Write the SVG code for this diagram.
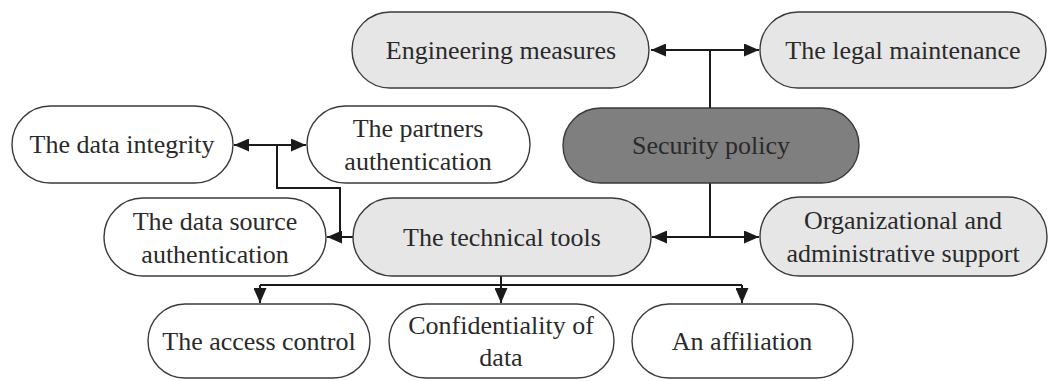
<svg xmlns="http://www.w3.org/2000/svg" width="1052" height="381" viewBox="0 0 1052 381">
  <defs>
    <marker id="arrowhead" viewBox="0 0 15 13" refX="15" refY="6.5" markerWidth="15" markerHeight="13" markerUnits="userSpaceOnUse" orient="auto-start-reverse">
      <path d="M0,0 L15,6.5 L0,13 Z" fill="#1a1a1a"/>
    </marker>
    <style>
      .box { stroke: #3a3a3a; stroke-width: 1.4; }
      .white { fill: #ffffff; }
      .light { fill: #e6e6e6; }
      .dark { fill: #7f7f7f; }
      text { font-family: "Liberation Serif", "DejaVu Serif", serif; font-size: 26px; fill: #2a2a2a; text-anchor: middle; dominant-baseline: central; }
      .wire { fill: none; stroke: #1a1a1a; stroke-width: 2; }
    </style>
  </defs>
  <rect width="1052" height="381" fill="#ffffff"/>

  <!-- connectors -->
  <g id="connectors">
    <line class="wire" x1="710" y1="50" x2="710" y2="108"/>
    <line class="wire" x1="651" y1="50" x2="759" y2="50" marker-start="url(#arrowhead)" marker-end="url(#arrowhead)"/>
    <line class="wire" x1="710" y1="183" x2="710" y2="237"/>
    <line class="wire" x1="652" y1="237" x2="759" y2="237" marker-start="url(#arrowhead)" marker-end="url(#arrowhead)"/>
    <line class="wire" x1="234" y1="145" x2="306" y2="145" marker-start="url(#arrowhead)" marker-end="url(#arrowhead)"/>
    <polyline class="wire" points="277,145 277,188 340,188 340,237"/>
    <line class="wire" x1="353" y1="237" x2="327" y2="237" marker-end="url(#arrowhead)"/>
    <line class="wire" x1="501" y1="276" x2="501" y2="285"/>
    <line class="wire" x1="260" y1="285" x2="742" y2="285"/>
    <line class="wire" x1="260" y1="285" x2="260" y2="303" marker-end="url(#arrowhead)"/>
    <line class="wire" x1="501" y1="285" x2="501" y2="303" marker-end="url(#arrowhead)"/>
    <line class="wire" x1="742" y1="285" x2="742" y2="303" marker-end="url(#arrowhead)"/>
  </g>

  <g id="engineering-measures">
    <rect class="box light" x="352" y="12" width="297" height="76" rx="38"/>
    <text x="501" y="50">Engineering measures</text>
  </g>
  <g id="legal-maintenance">
    <rect class="box light" x="760" y="12" width="286" height="76" rx="38"/>
    <text x="903" y="50">The legal maintenance</text>
  </g>
  <g id="security-policy">
    <rect class="box dark" x="563" y="108" width="296" height="75" rx="37.5"/>
    <text x="711" y="145">Security policy</text>
  </g>
  <g id="data-integrity">
    <rect class="box white" x="12" y="106" width="221" height="77" rx="38.5"/>
    <text x="122" y="144">The data integrity</text>
  </g>
  <g id="partners-authentication">
    <rect class="box white" x="307" y="106" width="223" height="77" rx="38.5"/>
    <text x="418" y="128">The partners</text>
    <text x="418" y="161">authentication</text>
  </g>
  <g id="data-source-authentication">
    <rect class="box white" x="104" y="198" width="222" height="78" rx="39"/>
    <text x="215" y="221">The data source</text>
    <text x="215" y="254">authentication</text>
  </g>
  <g id="technical-tools">
    <rect class="box light" x="353" y="198" width="298" height="78" rx="39"/>
    <text x="502" y="237">The technical tools</text>
  </g>
  <g id="organizational-support">
    <rect class="box light" x="760" y="197" width="287" height="79" rx="39.5"/>
    <text x="903" y="220">Organizational and</text>
    <text x="903" y="253">administrative support</text>
  </g>
  <g id="access-control">
    <rect class="box white" x="148" y="304" width="222" height="74" rx="37"/>
    <text x="259" y="341">The access control</text>
  </g>
  <g id="confidentiality">
    <rect class="box white" x="389" y="304" width="225" height="74" rx="37"/>
    <text x="501" y="325">Confidentiality of</text>
    <text x="501" y="357">data</text>
  </g>
  <g id="affiliation">
    <rect class="box white" x="632" y="304" width="221" height="74" rx="37"/>
    <text x="742" y="341">An affiliation</text>
  </g>
</svg>
